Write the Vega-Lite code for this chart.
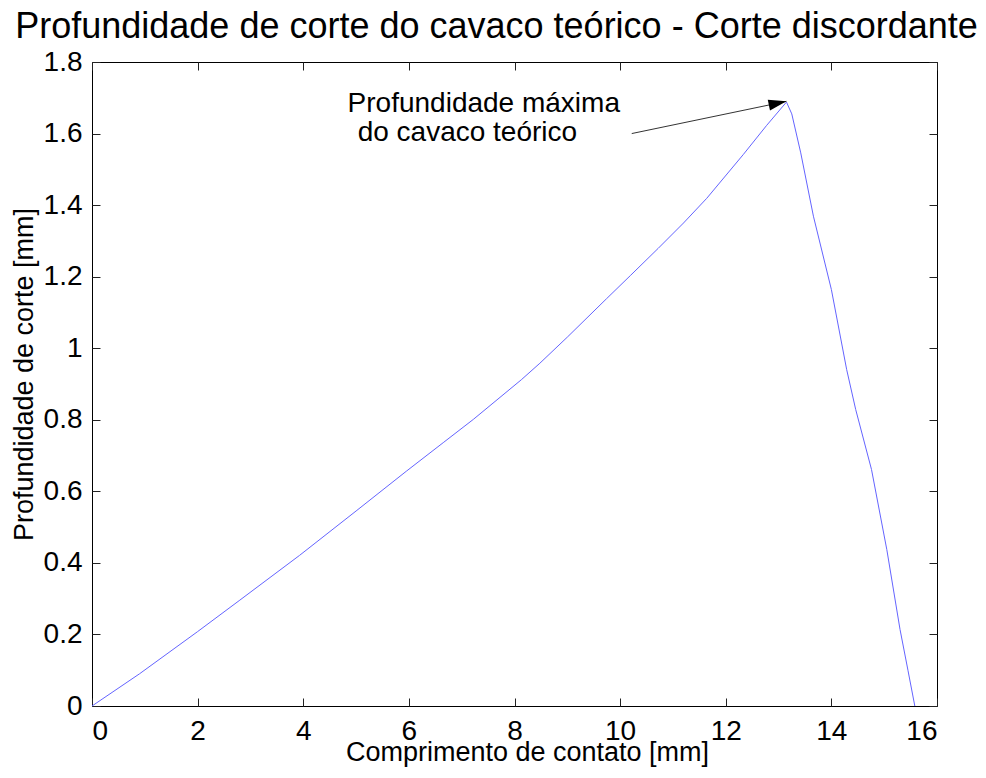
{
  "$schema": "https://vega.github.io/schema/vega-lite/v6.json",
  "width": 845,
  "height": 644,
  "autosize": {"type": "none"},
  "padding": {"left": 92, "top": 62, "right": 49, "bottom": 72},
  "background": "white",
  "config": {
    "font": "Liberation Sans",
    "view": {"stroke": "black", "strokeWidth": 1},
    "axis": {
      "grid": false,
      "domain": false,
      "tickColor": "#222",
      "tickWidth": 1,
      "tickSize": -8,
      "labelFont": "Liberation Sans",
      "labelFontSize": 28,
      "labelColor": "black",
      "titleFont": "Liberation Sans",
      "titleFontSize": 27,
      "titleFontWeight": "normal",
      "titleColor": "black"
    }
  },
  "title": {
    "text": "Profundidade de corte do cavaco teórico - Corte discordante",
    "font": "Liberation Sans",
    "fontSize": 36,
    "fontWeight": "normal",
    "color": "black",
    "anchor": "middle",
    "frame": "group",
    "dx": -18,
    "offset": -25.5,
    "baseline": "alphabetic"
  },
  "datasets": {
    "curve": [
      {"x": 0, "y": 0},
      {"x": 0.9, "y": 0.09},
      {"x": 2.0, "y": 0.208},
      {"x": 2.8, "y": 0.296},
      {"x": 3.93, "y": 0.421},
      {"x": 5.0, "y": 0.545},
      {"x": 5.95, "y": 0.656},
      {"x": 6.65, "y": 0.736},
      {"x": 7.22, "y": 0.801},
      {"x": 8.13, "y": 0.912},
      {"x": 8.48, "y": 0.958},
      {"x": 9.0, "y": 1.031},
      {"x": 9.74, "y": 1.138},
      {"x": 10.2, "y": 1.204},
      {"x": 10.72, "y": 1.279},
      {"x": 11.2, "y": 1.350},
      {"x": 11.64, "y": 1.419},
      {"x": 12.33, "y": 1.541},
      {"x": 12.77, "y": 1.622},
      {"x": 13.15, "y": 1.688},
      {"x": 13.25, "y": 1.655},
      {"x": 13.42, "y": 1.546},
      {"x": 13.66, "y": 1.369},
      {"x": 14.0, "y": 1.164},
      {"x": 14.29, "y": 0.94},
      {"x": 14.46, "y": 0.829},
      {"x": 14.76, "y": 0.661},
      {"x": 15.05, "y": 0.437},
      {"x": 15.3, "y": 0.214},
      {"x": 15.45, "y": 0.1},
      {"x": 15.58, "y": 0.0}
    ],
    "arrow": [{"x": 10.22, "y": 1.6, "x2": 13.15, "y2": 1.69}],
    "tip": [{"x": 13.15, "y": 1.69}],
    "notes": [
      {"x": 4.84, "y": 1.659, "label": "Profundidade máxima"},
      {"x": 5.03, "y": 1.578, "label": "do cavaco teórico"}
    ]
  },
  "layer": [
    {
      "layer": [
        {
          "data": {"name": "curve"},
          "mark": {"type": "line", "color": "#6464ff", "strokeWidth": 1},
          "encoding": {
            "x": {
              "field": "x", "type": "quantitative",
              "scale": {"domain": [0, 16], "nice": false, "zero": false},
              "axis": {"orient": "bottom", "title": "Comprimento de contato [mm]", "values": [0, 2, 4, 6, 8, 10, 12, 14, 16], "labelPadding": 19, "titleX": 435, "titleY": 54, "titleBaseline": "alphabetic", "titleAnchor": null, "titleAlign": "center"}
            },
            "y": {
              "field": "y", "type": "quantitative",
              "scale": {"domain": [0, 1.8], "nice": false, "zero": false},
              "axis": {"orient": "left", "title": "Profundidade de corte [mm]", "values": [0, 0.2, 0.4, 0.6, 0.8, 1, 1.2, 1.4, 1.6, 1.8], "format": "~g", "labelPadding": 18, "titleX": -60, "titleY": 312, "titleAngle": -90, "titleBaseline": "alphabetic", "titleAlign": "center"}
            }
          }
        },
        {
          "data": {"name": "arrow"},
          "mark": {"type": "rule", "color": "#333", "strokeWidth": 1},
          "encoding": {
            "x": {"field": "x", "type": "quantitative"},
            "y": {"field": "y", "type": "quantitative"},
            "x2": {"field": "x2"},
            "y2": {"field": "y2"}
          }
        },
        {
          "data": {"name": "tip"},
          "mark": {"type": "point", "shape": "M0,0 L-2,-0.6 L-2,0.6 Z", "size": 324, "angle": -12, "filled": true, "color": "black", "opacity": 1},
          "encoding": {
            "x": {"field": "x", "type": "quantitative"},
            "y": {"field": "y", "type": "quantitative"}
          }
        },
        {
          "data": {"name": "notes"},
          "mark": {"type": "text", "align": "left", "baseline": "alphabetic", "font": "Liberation Sans", "fontSize": 28, "color": "black"},
          "encoding": {
            "x": {"field": "x", "type": "quantitative"},
            "y": {"field": "y", "type": "quantitative"},
            "text": {"field": "label"}
          }
        }
      ]
    },
    {
      "data": {"name": "curve"},
      "mark": {"type": "point", "opacity": 0},
      "encoding": {
        "x": {
          "field": "x", "type": "quantitative",
          "scale": {"domain": [0, 16], "nice": false, "zero": false},
          "axis": {"orient": "top", "labels": false, "title": null, "values": [0, 2, 4, 6, 8, 10, 12, 14, 16]}
        },
        "y": {
          "field": "y", "type": "quantitative",
          "scale": {"domain": [0, 1.8], "nice": false, "zero": false},
          "axis": {"orient": "right", "labels": false, "title": null, "values": [0, 0.2, 0.4, 0.6, 0.8, 1, 1.2, 1.4, 1.6, 1.8]}
        }
      }
    }
  ],
  "resolve": {"scale": {"x": "independent", "y": "independent"}}
}
